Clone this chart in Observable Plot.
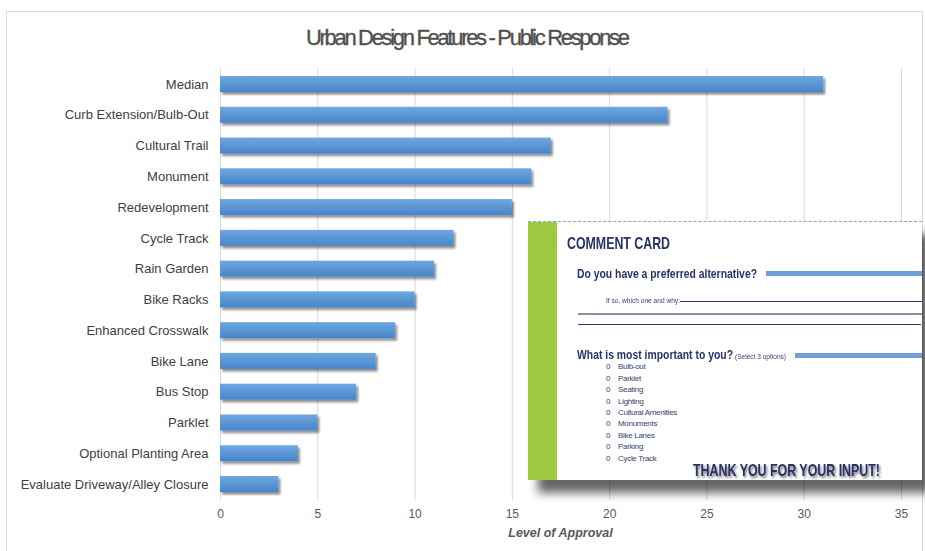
<!DOCTYPE html>
<html>
<head>
<meta charset="utf-8">
<script src="https://cdn.jsdelivr.net/npm/d3@7"></script>
<script src="https://cdn.jsdelivr.net/npm/@observablehq/plot@0.6"></script>
<style>
  html, body { margin: 0; padding: 0; background: #fff; }
  #root { position: relative; width: 925px; height: 551px; overflow: hidden; font-family: "Liberation Sans", Arial, sans-serif; }
  #frame { position: absolute; left: 6px; top: 11px; width: 917px; height: 560px; border: 1px solid #d9d9d9; box-sizing: border-box; }
  #chart { position: absolute; left: 0; top: 0; }
  #title { position: absolute; left: 306px; top: 25px; font-size: 22px; color: #505050; white-space: nowrap; line-height: 26px; -webkit-text-stroke: 0.35px #505050; }
  #xlabel { position: absolute; left: 0; width: 1121px; top: 525px; text-align: center; font-size: 12.5px; font-weight: bold; font-style: italic; color: #595959; line-height: 16px; }
  #card { position: absolute; left: 528px; top: 221px; width: 394px; height: 259px; background: #fff; border-top: 1px dashed #7fa6d6; box-sizing: border-box; box-shadow: 10px 13px 9px rgba(0,0,0,0.6); overflow: hidden; }
  #card .green { position: absolute; left: 0; top: 0; width: 29px; height: 259px; background: #9cc93d; }
  #card .t { position: absolute; white-space: nowrap; color: #283268; font-family: "Liberation Sans Narrow", "Liberation Sans", Arial, sans-serif; transform-origin: 0 50%; }
  #card .bar { position: absolute; }
</style>
</head>
<body>
<div id="root">
  <div id="frame"></div>
  <div id="chart"></div>
  <div id="title">Urban Design Features - Public Response</div>
  <div id="xlabel">Level of Approval</div>
  <div id="card"></div>
</div>
<script>
// ---- data ----
const categories = [
  "Median", "Curb Extension/Bulb-Out", "Cultural Trail", "Monument", "Redevelopment",
  "Cycle Track", "Rain Garden", "Bike Racks", "Enhanced Crosswalk", "Bike Lane",
  "Bus Stop", "Parklet", "Optional Planting Area", "Evaluate Driveway/Alley Closure"
];
const approval = [31, 23, 17, 16, 15, 12, 11, 10, 9, 8, 7, 5, 4, 3];
const xTicks = [0, 5, 10, 15, 20, 25, 30, 35];
const cardOptions = ["Bulb-out", "Parklet", "Seating", "Lighting", "Cultural Amenities", "Monuments", "Bike Lanes", "Parking", "Cycle Track"];

const rows = categories.map((c, i) => ({category: c, value: approval[i]}));

function defsMark() {
  const g = document.createElementNS("http://www.w3.org/2000/svg", "g");
  g.innerHTML = `<defs>
    <linearGradient id="barGrad" x1="0" y1="0" x2="0" y2="1">
      <stop offset="0" stop-color="#6ea8e0"/>
      <stop offset="1" stop-color="#4785cb"/>
    </linearGradient>
    <filter id="barShadow" x="-5%" y="-30%" width="120%" height="190%">
      <feDropShadow dx="2" dy="2.5" stdDeviation="1.3" flood-color="#000" flood-opacity="0.45"/>
    </filter>
  </defs>`;
  return g;
}

const chart = Plot.plot({
  width: 925,
  height: 551,
  marginTop: 68,
  marginBottom: 51,
  marginLeft: 220,
  marginRight: 24,
  style: {fontFamily: '"Liberation Sans", Arial, sans-serif', background: "transparent"},
  x: {domain: [0, 35], label: null},
  y: {domain: categories, paddingInner: 0.48, paddingOuter: 0.26, round: false, label: null},
  marks: [
    defsMark,
    Plot.ruleX(xTicks, {stroke: "#d9d9d9", strokeWidth: 1}),
    Plot.barX(rows, {x: "value", y: "category", fill: "url(#barGrad)", className: "bars"}),
    Plot.axisX({ticks: xTicks, tickSize: 0, tickPadding: 9, fontSize: 12, fill: "#595959", label: null}),
    Plot.axisY({tickSize: 0, tickPadding: 12, fontSize: 13, fill: "#404040", label: null})
  ]
});
document.getElementById("chart").appendChild(chart);
chart.querySelectorAll(".bars, g[aria-label='bar']").forEach(g => g.setAttribute("filter", "url(#barShadow)"));

// title fit (tight letter spacing)
const title = document.getElementById("title");
{
  const w = title.getBoundingClientRect().width;
  const n = title.textContent.length - 1;
  title.style.letterSpacing = ((324 - w) / n) + "px";
}

// ---- comment card ----
const card = document.getElementById("card");
function addText(txt, left, cy, size, weight, targetW, extra) {
  const el = document.createElement("div");
  el.className = "t";
  el.textContent = txt;
  el.style.left = left + "px";
  el.style.fontSize = size + "px";
  el.style.fontWeight = weight;
  el.style.lineHeight = (size * 1.2) + "px";
  el.style.top = (cy - size * 0.6) + "px";
  if (extra) Object.assign(el.style, extra);
  card.appendChild(el);
  if (targetW) {
    const w = el.getBoundingClientRect().width;
    el.style.transform = `scaleX(${targetW / w})`;
  }
  return el;
}
function addBar(left, top, width, height, color) {
  const el = document.createElement("div");
  el.className = "bar";
  Object.assign(el.style, {left: left + "px", top: top + "px", width: width + "px", height: height + "px", background: color});
  card.appendChild(el);
}
card.appendChild(Object.assign(document.createElement("div"), {className: "green"}));
addText("COMMENT CARD", 39, 22, 17, "bold", 103);
addText("Do you have a preferred alternative?", 49, 52, 13, "bold", 180);
addBar(238, 49, 160, 5, "#6f9fd8");
addText("If so, which one and why:", 78, 78, 7.5, "normal", 74, {color: "#3a4070"});
addBar(152, 79, 242, 1, "#2d3570");
addBar(50, 91, 344, 2, "#8a8fa6");
addBar(50, 102, 343, 1, "#2d3570");
addText("What is most important to you?", 49, 133, 13, "bold", 156);
addText("(Select 3 options)", 207, 134, 7.5, "normal", 51, {color: "#3a4070"});
addBar(267, 131, 130, 5, "#6f9fd8");
const optY = [144.7, 156.7, 168, 180, 190.7, 201.7, 214, 225, 236.7];
cardOptions.forEach((o, i) => {
  addText("0", 78, optY[i], 8, "normal", null, {color: "#3a4070"});
  addText(o, 90, optY[i], 8, "normal", null, {color: "#3a4070", letterSpacing: "-0.3px"});
});
addText("THANK YOU FOR YOUR INPUT!", 165, 249, 17, "bold", 187, {textShadow: "2px 2px 3px rgba(0,0,0,0.55)"});
</script>
</body>
</html>
